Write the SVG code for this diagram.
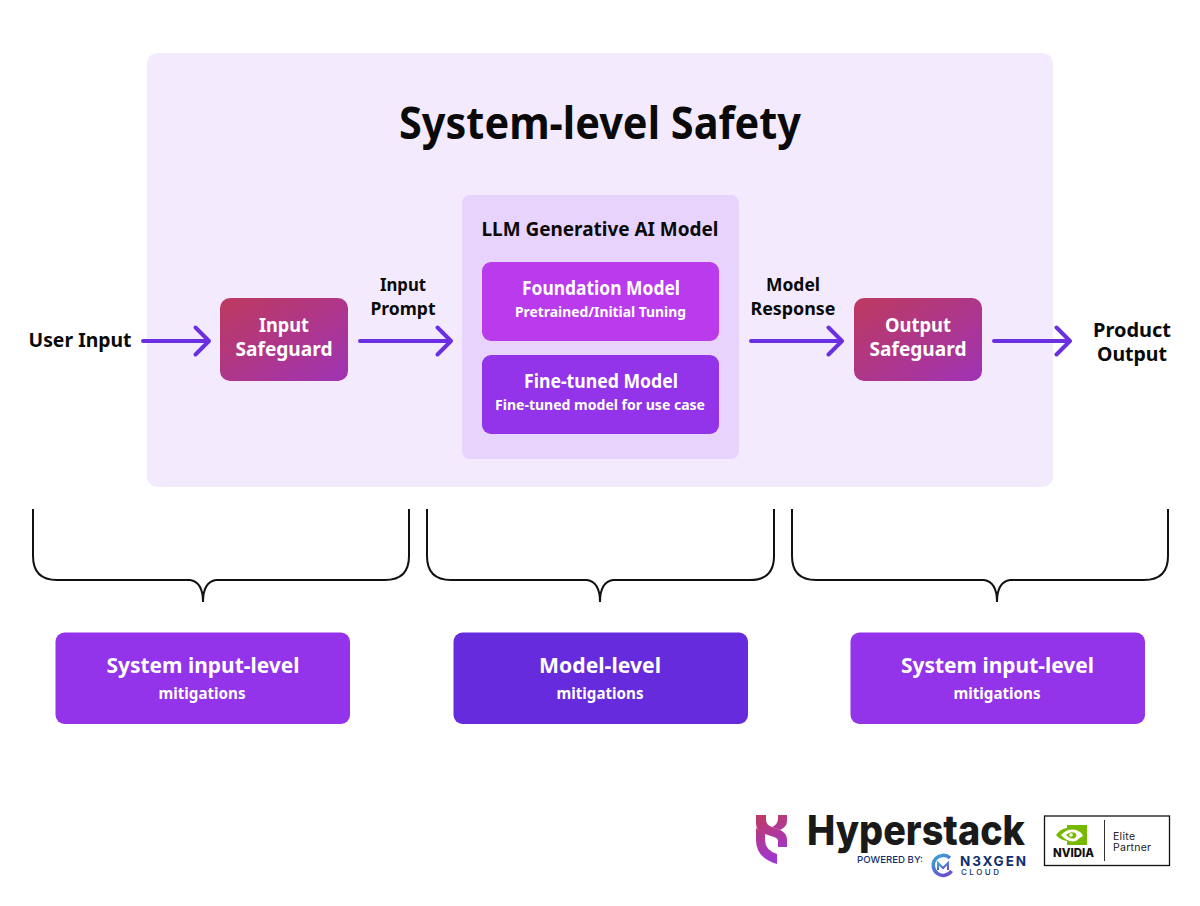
<svg xmlns="http://www.w3.org/2000/svg" width="1200" height="906" viewBox="0 0 1200 906">
<style>
text{font-family:"Noto Sans","Open Sans","Liberation Sans",sans-serif;text-anchor:middle;font-weight:700}
.k{fill:#0a0a0a;font-size:19px}
.e{fill:#0a0a0a;font-size:18px}
.w{fill:#fff}
.t{font-size:19px}
.s{font-size:14.5px}
.mh{font-size:22px}
.ms{font-size:15.5px}
.i{font-family:Inter,"Liberation Sans",sans-serif}
.a{fill:none;stroke:#6a2fe0;stroke-width:4;stroke-linecap:round;stroke-linejoin:round}
.b{fill:none;stroke:#111;stroke-width:2}
</style>
<defs>
<linearGradient id="g" x1="0" y1="0" x2="1" y2="1"><stop offset="0" stop-color="#bd3a5e"/><stop offset="1" stop-color="#a033b5"/></linearGradient>
<linearGradient id="h" gradientUnits="userSpaceOnUse" x1="758" y1="815" x2="780" y2="864"><stop offset="0" stop-color="#c03a62"/><stop offset="1" stop-color="#9b35e0"/></linearGradient>
<linearGradient id="n" x1="0" y1="0" x2="0.6" y2="1"><stop offset="0" stop-color="#35a8d8"/><stop offset="1" stop-color="#6a4fd0"/></linearGradient>
</defs>
<rect width="1200" height="906" fill="#fff"/>
<g id="system"><rect x="147" y="53" width="906" height="434" rx="10" fill="#f4eafe"/>
<text x="600" y="139" font-size="44" fill="#0a0a0a" textLength="402" lengthAdjust="spacingAndGlyphs">System-level Safety</text></g>
<g id="llm"><rect x="462" y="195" width="277" height="264" rx="8" fill="#e8d3fd"/>
<text x="600" y="236" class="k" textLength="237" lengthAdjust="spacingAndGlyphs">LLM Generative AI Model</text></g>
<g id="foundation"><rect x="482" y="262" width="237" height="79" rx="9" fill="#b93bec"/>
<text x="601" y="295" class="w t" textLength="158" lengthAdjust="spacingAndGlyphs">Foundation Model</text>
<text x="600.500" y="317" class="w s" textLength="171" lengthAdjust="spacingAndGlyphs">Pretrained/Initial Tuning</text></g>
<g id="finetuned"><rect x="482" y="355" width="237" height="79" rx="9" fill="#9333ea"/>
<text x="601" y="388" class="w t" textLength="154" lengthAdjust="spacingAndGlyphs">Fine-tuned Model</text>
<text x="600" y="410" class="w s" textLength="210" lengthAdjust="spacingAndGlyphs">Fine-tuned model for use case</text></g>
<g id="input-safeguard"><rect x="220" y="298" width="128" height="83" rx="10" fill="url(#g)"/>
<text x="284" y="332" class="w t" textLength="50" lengthAdjust="spacingAndGlyphs">Input</text>
<text x="284" y="356" class="w t" textLength="97" lengthAdjust="spacingAndGlyphs">Safeguard</text></g>
<g id="output-safeguard"><rect x="854" y="298" width="128" height="83" rx="10" fill="url(#g)"/>
<text x="918" y="332" class="w t" textLength="66" lengthAdjust="spacingAndGlyphs">Output</text>
<text x="918" y="356" class="w t" textLength="97" lengthAdjust="spacingAndGlyphs">Safeguard</text></g>
<g id="user-input"><text x="80" y="347" class="k" textLength="103" lengthAdjust="spacingAndGlyphs">User Input</text></g>
<g id="product-output"><text x="1132" y="337" class="k" textLength="78" lengthAdjust="spacingAndGlyphs">Product</text><text x="1132" y="361" class="k" textLength="70" lengthAdjust="spacingAndGlyphs">Output</text></g>
<g id="connectors">
<path class="a" d="M143 341H209M195.500 327.500L209 341L195.500 354.500"/>
<path class="a" d="M360 341H451M437.500 327.500L451 341L437.500 354.500"/>
<path class="a" d="M751 341H842M828.500 327.500L842 341L828.500 354.500"/>
<path class="a" d="M994 341H1070M1056.500 327.500L1070 341L1056.500 354.500"/>
</g>
<g id="edge-labels">
<text x="403" y="291" class="e" textLength="46" lengthAdjust="spacingAndGlyphs">Input</text>
<text x="403" y="315" class="e" textLength="65" lengthAdjust="spacingAndGlyphs">Prompt</text>
<text x="793" y="291" class="e" textLength="54" lengthAdjust="spacingAndGlyphs">Model</text>
<text x="793" y="315" class="e" textLength="85" lengthAdjust="spacingAndGlyphs">Response</text>
</g>
<g id="braces">
<path class="b" d="M33 509V556Q33 580 57 580H190Q203 582 203 602Q203 582 216 580H385Q409 580 409 556V509"/>
<path class="b" d="M427 509V556Q427 580 451 580H587Q600 582 600 602Q600 582 613 580H750Q774 580 774 556V509"/>
<path class="b" d="M792 509V556Q792 580 816 580H984Q997 582 997 602Q997 582 1010 580H1144Q1168 580 1168 556V509"/>
</g>
<g id="mit-1"><rect x="55.500" y="632.500" width="294.500" height="91.500" rx="9" fill="#9333ea"/>
<text x="203" y="673" class="w mh" textLength="193" lengthAdjust="spacingAndGlyphs">System input-level</text>
<text x="202" y="699" class="w ms" textLength="87" lengthAdjust="spacingAndGlyphs">mitigations</text></g>
<g id="mit-2"><rect x="453.500" y="632.500" width="294.500" height="91.500" rx="9" fill="#652bdc"/>
<text x="600" y="673" class="w mh" textLength="122" lengthAdjust="spacingAndGlyphs">Model-level</text>
<text x="600" y="699" class="w ms" textLength="87" lengthAdjust="spacingAndGlyphs">mitigations</text></g>
<g id="mit-3"><rect x="850.500" y="632.500" width="294.500" height="91.500" rx="9" fill="#9333ea"/>
<text x="997.500" y="673" class="w mh" textLength="193" lengthAdjust="spacingAndGlyphs">System input-level</text>
<text x="997" y="699" class="w ms" textLength="87" lengthAdjust="spacingAndGlyphs">mitigations</text></g>
<g id="hyperstack-logo">
<path fill="url(#h)" d="M756 815H766V820Q766 825 772 827L780 830Q787 833 787 840V847H778V841Q778 838 774 837L765 834Q756 831 756 824Z"/>
<path fill="url(#h)" d="M778 815H787V821Q787 827 780 830L772 827Q778 824 778 819Z"/>
<path fill="url(#h)" d="M756 828L765 834V840Q765 850 777 854V864Q756 858 756 840Z"/>
<text x="916" y="845" class="i" style="font-size:41px;font-weight:800" fill="#1a1a1a" textLength="218" lengthAdjust="spacingAndGlyphs">Hyperstack</text>
<text x="890" y="863" class="i" style="font-size:9.500px;font-weight:500" fill="#12306e" textLength="66" lengthAdjust="spacingAndGlyphs">POWERED BY:</text>
<path d="M950 858A10 10 0 1 0 951.500 871" fill="none" stroke="url(#n)" stroke-width="3.500"/>
<path d="M938 870V863L943 868L948 863V870" fill="none" stroke="url(#n)" stroke-width="2"/>
<text x="993" y="866" class="i" style="font-size:13.500px;font-weight:700" fill="#12306e" textLength="66">N3XGEN</text>
<text x="980" y="875" class="i" style="font-size:8px;font-weight:500" fill="#12306e" textLength="38">CLOUD</text>
</g>
<g id="nvidia-badge">
<rect x="1044.500" y="816" width="125" height="49.500" fill="#fff" stroke="#111" stroke-width="1.300"/>
<path d="M1067 825H1087V845H1067V841Q1060 840 1056 835Q1060 829 1067 828Z" fill="#76b900"/>
<path d="M1061 835Q1068 828 1076 830Q1082 832 1083 836Q1079 838 1076 841Q1068 843 1061 835Z" fill="#fff"/>
<path d="M1066 835Q1070 831 1075 833Q1078 835 1075 838Q1071 840 1066 835Z" fill="#76b900"/>
<circle cx="1071" cy="835" r="1.800" fill="#fff"/>
<text x="1073.500" y="857" class="i" style="font-size:12px;font-weight:800" fill="#111" textLength="41" lengthAdjust="spacingAndGlyphs">NVIDIA</text>
<path d="M1104.500 820V861" stroke="#333" stroke-width="1"/>
<text x="1113" y="839.500" class="i" style="font-size:10.500px;font-weight:400;text-anchor:start" fill="#222" textLength="22">Elite</text>
<text x="1113" y="850.500" class="i" style="font-size:10.500px;font-weight:400;text-anchor:start" fill="#222" textLength="38">Partner</text>
</g>
</svg>
